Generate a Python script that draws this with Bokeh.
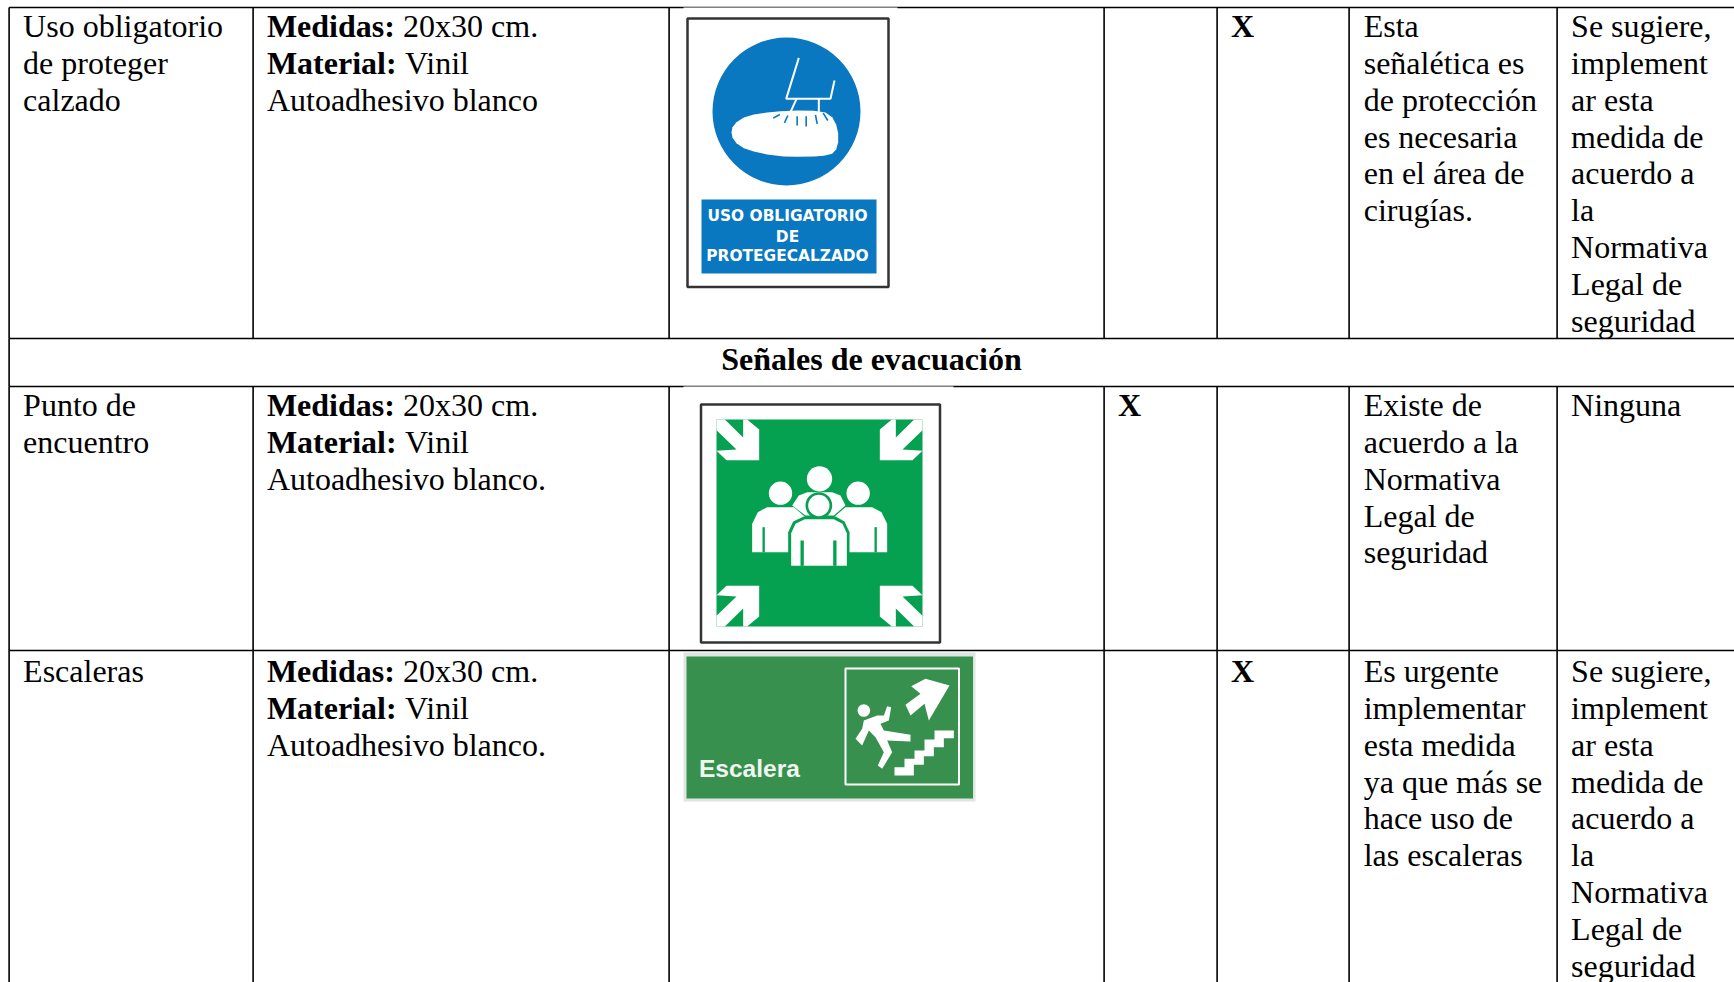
from bokeh.embed import file_html
from bokeh.resources import INLINE
from bokeh.plotting import figure
from bokeh.models import Range1d
from bokeh.core.properties import value

# ---- table content
row1_name = ["Uso obligatorio", "de proteger", "calzado"]
row1_spec = ["Autoadhesivo blanco"]
row1_why = ["Esta", "señalética es", "de protección", "es necesaria", "en el área de", "cirugías."]
row1_rec = ["Se sugiere,", "implement", "ar esta", "medida de", "acuerdo a", "la", "Normativa", "Legal de", "seguridad"]
header = "Señales de evacuación"
row2_name = ["Punto de", "encuentro"]
row2_spec = ["Autoadhesivo blanco."]
row2_why = ["Existe de", "acuerdo a la", "Normativa", "Legal de", "seguridad"]
row2_rec = ["Ninguna"]
row3_name = ["Escaleras"]
row3_spec = ["Autoadhesivo blanco."]
row3_why = ["Es urgente", "implementar", "esta medida", "ya que más se", "hace uso de", "las escaleras"]
row3_rec = ["Se sugiere,", "implement", "ar esta", "medida de", "acuerdo a", "la", "Normativa", "Legal de", "seguridad"]

# ---- table geometry (pixels)
col_edges = [8.6, 252.6, 668.6, 1103.6, 1216.6, 1348.6, 1556.6]
row_edges = [7, 338, 386, 650, 982]
first_base = [25.5, 404.5, 670.5]
pitch = 36.85
col_text = [22.6, 266.4, 1117.4, 1230.4, 1363.2, 1570.6]

W, H = 1734, 982
p = figure(width=W, height=H, x_range=Range1d(0, W), y_range=Range1d(H, 0),
           output_backend="svg", toolbar_location=None, min_border=0)
p.axis.visible = False
p.grid.visible = False
p.outline_line_color = None
p.background_fill_color = "white"
p.border_fill_color = "white"

SERIF = value("Liberation Serif")


def txt(xs, ys, ss, bold=False):
    p.text(xs, ys, text=ss, text_font=SERIF, text_font_size=value("32px"),
           text_font_style="bold" if bold else "normal", text_color="#000000",
           text_baseline="alphabetic", text_align="left")


def cell(x, y0, lines, skip=0):
    txt([x] * len(lines), [y0 + (i + skip) * pitch for i in range(len(lines))], lines)


# grid
for y in row_edges[:-1]:
    p.segment([col_edges[0]], [y], [W], [y], line_color="black", line_width=1.6)
for x in col_edges:
    p.segment([x, x], [row_edges[0], row_edges[2]], [x, x], [row_edges[1], row_edges[4]],
              line_color="black", line_width=1.6)
p.segment([col_edges[0]], [row_edges[1]], [col_edges[0]], [row_edges[2]], line_color="black", line_width=1.6)

# image white overlaps thin the rule above pictures 1 and 2
p.quad(left=[683, 683], right=[897, 953], top=[7, 386], bottom=[30, 400], fill_color="white", line_color=None)

# text cells
for r, (nm, sp, why, rec) in enumerate([(row1_name, row1_spec, row1_why, row1_rec),
                                        (row2_name, row2_spec, row2_why, row2_rec),
                                        (row3_name, row3_spec, row3_why, row3_rec)]):
    b = first_base[r]
    cell(col_text[0], b, nm)
    txt([col_text[1], col_text[1]], [b, b + pitch], ["Medidas:", "Material:"], bold=True)
    txt([402.6, 404.6], [b, b + pitch], ["20x30 cm.", "Vinil"])
    cell(col_text[1], b, sp, skip=2)
    cell(col_text[4], b, why)
    cell(col_text[5], b, rec)

txt([col_text[3], col_text[2], col_text[3]], first_base, ["X", "X", "X"], bold=True)
p.text([871], [358.5], text=[header], text_font=SERIF, text_font_size=value("32px"), text_font_style="bold",
       text_align="center", text_baseline="alphabetic", text_color="black")

# ---- picture 1 : blue mandatory sign
BLUE = "#0a78c0"


def i1(pts):
    return [670 + a / 3 for a, b in pts], [b / 3 for a, b in pts]


p.quad(left=[687], right=[888], top=[18], bottom=[286.5], fill_color="white", line_color="#333333", line_width=2.5)
p.circle([786], [111], radius=74, fill_color=BLUE, line_color=None)
p.quad(left=[701], right=[876], top=[199], bottom=[273], fill_color=BLUE, line_color=None)
for seg in [[(385, 172), (347, 295), (480, 295), (492, 240)], [(378, 295), (360, 335)], [(445, 295), (445, 335)]]:
    lx, ly = i1(seg)
    p.line(lx, ly, line_color="white", line_width=2)
sx, sy = i1([(183, 395), (186, 380), (198, 365), (220, 351), (250, 342), (290, 336), (330, 332), (380, 330), (430, 331), (465, 336),
             (485, 350), (497, 372), (503, 398), (503, 425), (497, 447), (485, 460), (460, 466), (430, 468), (380, 469), (340, 468),
             (290, 462), (250, 453), (220, 443), (198, 428), (186, 412)])
p.patch(sx, sy, fill_color="white", line_color=None)
for seg in [[(308, 353), (328, 342)], [(342, 367), (352, 345)], [(380, 375), (380, 347)], [(407, 378), (407, 347)],
            [(440, 370), (435, 343)], [(472, 360), (458, 338)]]:
    lx, ly = i1(seg)
    p.line(lx, ly, line_color=BLUE, line_width=1.6)
p.text([787, 787, 787], [215, 236, 255.5], text=["USO OBLIGATORIO", "DE", "PROTEGECALZADO"],
       text_font=value("DejaVu Sans"), text_font_style="bold", text_font_size=value("15.4px"),
       text_color="white", text_align="center", text_baseline="alphabetic")

# ---- picture 2 : green assembly point
GREEN2 = "#05a050"
p.quad(left=[700.5], right=[939.5], top=[404], bottom=[642], fill_color="white", line_color="#333333", line_width=2.5)
p.quad(left=[716], right=[922], top=[419], bottom=[626], fill_color=GREEN2, line_color=None)
arrow = [(0, 0), (25, 0), (80, 54), (80, 0), (92, 0), (128, 30), (128, 122), (30, 122), (0, 94), (60, 90), (0, 32)]
for cx, cy, fx, fy in [(716, 419, 1, 1), (922, 419, -1, 1), (716, 626, 1, -1), (922, 626, -1, -1)]:
    p.patch([cx + fx * a / 3 for a, b in arrow], [cy + fy * b / 3 for a, b in arrow], fill_color="white", line_color=None)


def i2(pts):
    return [750 + a / 3 for a, b in pts], [460 + b / 3 for a, b in pts]


def wp(pts, f, color="white"):
    lx, ly = f(pts)
    p.patch(lx, ly, fill_color=color, line_color=None)


for (a, b, r) in [(207, 55, 38), (90, 98, 35), (323, 98, 35)]:
    p.circle([750 + a / 3], [460 + b / 3], radius=r / 3, fill_color="white", line_color=None)
left_body = [(5, 275), (5, 190), (22, 155), (50, 140), (130, 140), (165, 170), (120, 230), (120, 275)]
wp(left_body, i2)
wp([(415 - a, b) for a, b in left_body], i2)
wp([(125, 135), (145, 105), (170, 95), (245, 95), (270, 105), (285, 135), (250, 165), (165, 165)], i2)
wp([(36, 200), (43, 200), (43, 275), (36, 275)], i2, GREEN2)
wp([(379, 200), (372, 200), (372, 275), (379, 275)], i2, GREEN2)
wp([(113, 316), (113, 215), (128, 183), (160, 168), (255, 168), (282, 183), (297, 215), (297, 316)], i2, GREEN2)
p.circle([750 + 205 / 3], [460 + 135 / 3], radius=40 / 3, fill_color=GREEN2, line_color=None)
p.circle([750 + 205 / 3], [460 + 135 / 3], radius=32 / 3, fill_color="white", line_color=None)
wp([(122, 316), (122, 218), (135, 190), (163, 176), (250, 176), (276, 190), (289, 218), (289, 316)], i2)
wp([(150, 240), (160, 240), (160, 316), (150, 316)], i2, GREEN2)
wp([(248, 240), (258, 240), (258, 316), (248, 316)], i2, GREEN2)

# ---- picture 3 : green stairs sign
GREEN3 = "#38904f"
p.quad(left=[683], right=[975], top=[652], bottom=[801], fill_color="#dfe5e0", line_color=None)
p.quad(left=[686], right=[972.5], top=[656], bottom=[798], fill_color=GREEN3, line_color=None)
p.quad(left=[845], right=[958.5], top=[668], bottom=[784], fill_color=GREEN3, line_color="white", line_width=2)
p.text([698.5], [768], text=["Escalera"], text_font=value("Liberation Sans"), text_font_style="bold",
       text_font_size=value("24.5px"), text_color="#f0f5f0", text_baseline="alphabetic")


def i3(pts):
    return [845 + a / 3 for a, b in pts], [665 + b / 3 for a, b in pts]


wp([(197, 62), (240, 40), (312, 60), (250, 165), (237, 115), (195, 150), (180, 118), (225, 85)], i3)
wp([(55, 165), (95, 150), (115, 150), (125, 122), (137, 125), (130, 165), (105, 175), (115, 195), (195, 208), (195, 228),
    (125, 225), (140, 260), (110, 310), (97, 300), (115, 260), (90, 215), (70, 195), (50, 240), (30, 220), (50, 190)], i3)
p.circle([845 + 55 / 3], [665 + 135 / 3], radius=6.3, fill_color="white", line_color=None)
wp([(147, 330), (147, 305), (177, 305), (177, 280), (207, 280), (207, 255), (237, 255), (237, 222), (267, 222), (267, 195),
    (325, 195), (325, 218), (295, 218), (295, 245), (265, 245), (265, 272), (235, 272), (235, 298), (205, 298), (205, 330)], i3)

open("out.html", "w").write(file_html(p, INLINE))
